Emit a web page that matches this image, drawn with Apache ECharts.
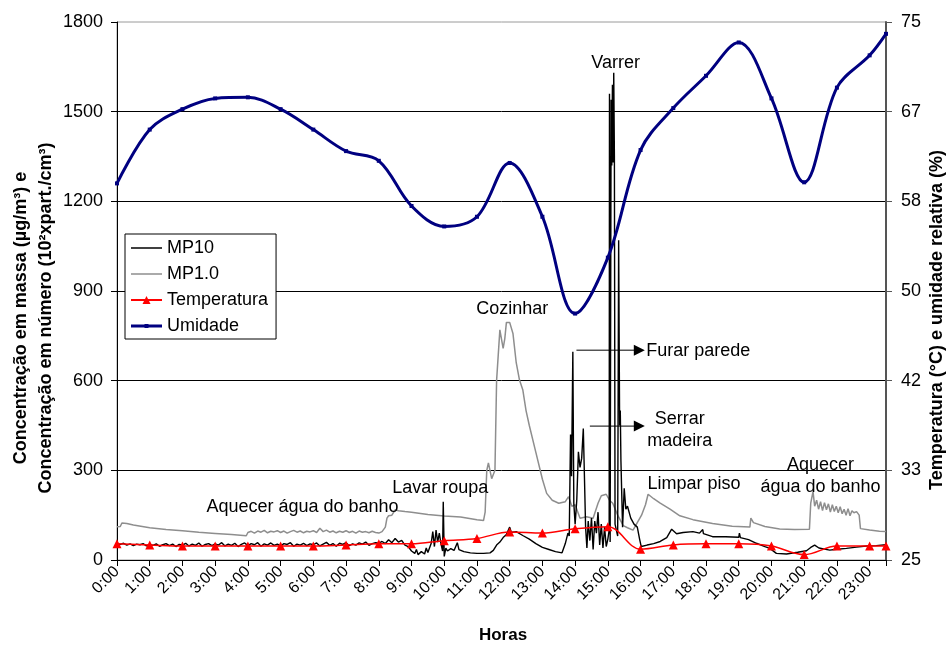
<!DOCTYPE html>
<html>
<head>
<meta charset="utf-8">
<script src="https://cdn.jsdelivr.net/npm/echarts@6/dist/echarts.min.js"></script>
<style>
  html, body { margin: 0; padding: 0; background: #fff; }
  #chart { width: 948px; height: 647px; }
</style>
</head>
<body>
<div id="chart"></div>
<script>
// Hour labels on the time axis
const hourLabels = ['0:00','1:00','2:00','3:00','4:00','5:00','6:00','7:00','8:00','9:00','10:00','11:00',
  '12:00','13:00','14:00','15:00','16:00','17:00','18:00','19:00','20:00','21:00','22:00','23:00'];

// MP10 overnight trace, one reading every 0.1 h from 0:00 to 8:00 (µg/m³)
const mp10NightStart = 0, mp10NightStep = 0.1;
const mp10Night = [
  55,52,56,50,54,48,53,51,55,47,
  52,49,54,46,51,55,48,53,45,52,
  50,56,47,53,49,57,46,52,55,48,
  54,50,58,47,53,49,56,45,52,57,
  48,55,51,58,46,54,50,57,49,53,
  47,55,52,58,46,53,50,56,48,54,
  51,57,47,53,59,49,55,46,56,52,
  58,48,54,50,57,53,60,49,55,58,
  56
];
// MP10 during the day activities, [hour, value]
const mp10Day = [
  [8.1,62],[8.2,55],[8.3,68],[8.4,58],[8.5,72],[8.6,60],[8.7,66],[8.8,50],[8.9,45],[9.0,30],
  [9.1,22],[9.15,35],[9.2,18],[9.3,28],[9.4,20],[9.45,40],[9.5,25],[9.6,55],[9.65,95],[9.7,45],
  [9.75,100],[9.8,60],[9.85,90],[9.9,55],[9.95,30],[9.97,195],[10.0,12],[10.05,40],[10.1,30],
  [10.2,38],[10.3,32],[10.4,58],[10.45,35],[10.5,30],[10.6,28],[10.8,24],[11.0,22],[11.2,22],
  [11.4,24],[11.5,32],[11.6,50],[11.7,60],[11.8,75],[11.9,85],[12.0,110],[12.05,92],[12.2,95],
  [12.4,82],[12.6,70],[12.8,55],[13.0,42],[13.2,35],[13.4,28],[13.6,24],[13.7,55],[13.78,90],
  [13.82,80],[13.86,420],[13.89,280],[13.93,697],[13.96,190],[14.0,120],[14.05,200],[14.1,362],
  [14.15,310],[14.2,340],[14.25,440],[14.28,300],[14.32,110],[14.36,40],[14.4,130],[14.45,65],
  [14.5,140],[14.55,35],[14.6,130],[14.65,90],[14.7,160],[14.75,50],[14.8,120],[14.85,40],
  [14.9,110],[14.95,45],[15.0,70],[15.04,100],[15.05,1560],[15.07,60],[15.1,1540],[15.12,1320],
  [15.14,1590],[15.16,1330],[15.18,1630],[15.2,1350],[15.22,120],[15.3,80],[15.33,1070],
  [15.36,450],[15.38,500],[15.4,330],[15.45,110],[15.5,240],[15.55,170],[15.6,180],[15.7,140],
  [15.8,120],[15.9,110],[15.97,70],[16.02,45],[16.2,50],[16.4,55],[16.6,62],[16.8,75],[16.95,103],
  [17.1,88],[17.3,92],[17.6,95],[17.8,90],[17.9,102],[17.92,88],[18.2,78],[18.6,78],[19.0,76],
  [19.02,90],[19.05,75],[19.3,68],[19.54,56],[19.8,45],[19.95,39],[20.15,22],[20.46,20],[20.8,26],
  [21.07,31],[21.2,42],[21.32,50],[21.45,40],[21.78,33],[22.0,36],[22.29,39],[22.6,43],[22.9,47],
  [23.2,48],[23.5,51]
];

// MP1.0 (10² part./cm³): slow overnight decay, [hour, value]
const mp1Early = [
  [0,111],[0.1,112],[0.15,124],[0.3,122],[0.5,117],[1.0,108],[1.5,102],[2.0,98],[2.5,93],
  [3.0,89],[3.5,85],[3.95,81]
];
// MP1.0 from 4:00 to 7:54, one reading every 0.1 h
const mp1QuietStart = 4.0, mp1QuietStep = 0.1;
const mp1Quiet = [
  92,96,90,97,93,99,91,96,94,98,
  92,97,90,95,99,93,97,91,96,94,
  98,92,106,95,100,93,97,91,96,93,
  98,92,96,90,97,93,95,91,96,92
];
const mp1Day = [
  [8.0,90],[8.1,95],[8.2,110],[8.25,140],[8.3,148],[8.4,150],[8.5,168],[8.6,165],[8.8,162],
  [9.0,160],[9.5,152],[10.0,147],[10.5,144],[11.0,135],[11.2,132],[11.25,160],[11.3,300],
  [11.35,325],[11.45,272],[11.55,300],[11.6,600],[11.7,770],[11.8,708],[11.85,740],[11.9,795],
  [12.0,795],[12.06,790],[12.1,758],[12.2,660],[12.3,602],[12.4,570],[12.5,500],[12.6,450],
  [12.8,360],[13.0,270],[13.13,223],[13.3,200],[13.5,190],[13.7,195],[13.8,212],[13.9,180],
  [14.0,185],[14.15,140],[14.35,145],[14.55,140],[14.7,190],[14.8,215],[14.95,220],[15.05,200],
  [15.15,190],[15.3,150],[15.47,115],[15.6,108],[15.77,100],[15.9,125],[16.03,150],[16.15,185],
  [16.23,220],[16.4,205],[16.6,190],[16.9,170],[17.2,148],[17.6,135],[18.2,122],[18.8,113],
  [19.34,110],[19.37,140],[19.45,125],[19.8,112],[20.25,104],[20.7,102],[21.16,103],[21.2,190],
  [21.27,229],[21.32,180],[21.38,200],[21.44,170],[21.5,195],[21.56,165],[21.62,192],[21.68,168],
  [21.74,188],[21.8,160],[21.86,185],[21.92,162],[21.98,180],[22.04,158],[22.1,178],[22.16,155],
  [22.22,170],[22.28,150],[22.34,172],[22.4,148],[22.46,165],[22.52,158],[22.6,162],[22.68,150],
  [22.72,105],[23.0,100],[23.3,96],[23.5,95]
];

// Hourly temperature (°C) and relative humidity (%)
const readingHours = [0,1,2,3,4,5,6,7,8,9,10,11,12,13,14,15,16,17,18,19,20,21,22,23,23.5];
const temperatura = [26.5,26.4,26.3,26.3,26.3,26.3,26.3,26.4,26.5,26.5,26.8,27.0,27.6,27.5,27.9,28.1,
  26.0,26.4,26.5,26.5,26.3,25.5,26.3,26.3,26.3];
const umidade = [60.0,65.0,66.9,67.9,68.0,66.9,65.0,63.0,62.1,57.9,56.0,56.9,61.9,56.9,47.9,53.1,
  63.1,67.0,70.0,73.1,67.9,60.1,68.9,71.9,73.9];

// Activity notes placed in data coordinates (hour, µg/m³)
const notes = [
  { text: 'Aquecer água do banho', hour: 5.67, value: 177, align: 'center' },
  { text: 'Lavar roupa', hour: 9.88, value: 241, align: 'center' },
  { text: 'Cozinhar', hour: 12.08, value: 840, align: 'center' },
  { text: 'Varrer', hour: 15.24, value: 1664, align: 'center' },
  { text: 'Furar parede', hour: 16.17, value: 700, align: 'left' },
  { text: 'Serrar\nmadeira', hour: 17.2, value: 434, align: 'center' },
  { text: 'Limpar piso', hour: 16.21, value: 253, align: 'left' },
  { text: 'Aquecer\nágua do banho', hour: 21.5, value: 281, align: 'center' }
];
const arrows = [
  { from: 14.04, to: 16.13, value: 702 },
  { from: 14.45, to: 16.13, value: 448 }
];

const FONT = '"Liberation Sans", Arial, Helvetica, sans-serif';

const seq = (start, step, vals) => vals.map((v, i) => [+(start + i * step).toFixed(2), v]);
const mp10Data = seq(mp10NightStart, mp10NightStep, mp10Night).concat(mp10Day);
const mp1Data = mp1Early.concat(seq(mp1QuietStart, mp1QuietStep, mp1Quiet), mp1Day);
const tempData = readingHours.map((h, i) => [h, temperatura[i]]);
const umidData = readingHours.map((h, i) => [h, umidade[i]]);

// legend swatches: plain strokes for the particle traces, thick stroke with a dot for humidity
const plainStroke = 'path://M0,0H31V1.5H0Z';
const humidityStroke = 'path://M0,1H31V4H0Z M13.5,0.5H17.5V4.5H13.5Z';

const chart = echarts.init(document.getElementById('chart'));
chart.setOption({
  animation: false,
  backgroundColor: '#fff',
  textStyle: { fontFamily: FONT },
  grid: { left: 117, right: 62, top: 22, bottom: 87, show: true, borderColor: '#9a9a9a', borderWidth: 1, backgroundColor: '#fff' },
  legend: {
    orient: 'vertical', left: 125, top: 234,
    itemWidth: 31, itemHeight: 10, itemGap: 8,
    padding: [5, 8, 4, 5],
    borderColor: '#000', borderWidth: 1, backgroundColor: '#fff',
    textStyle: { fontSize: 18, color: '#000', fontFamily: FONT },
    data: [
      { name: 'MP10', icon: plainStroke },
      { name: 'MP1.0', icon: plainStroke },
      'Temperatura',
      { name: 'Umidade', icon: humidityStroke }
    ]
  },
  xAxis: {
    type: 'value', min: 0, max: 23.5, interval: 1,
    axisLine: { show: true, onZero: false, lineStyle: { color: '#000', width: 1 } },
    axisTick: { show: true, length: 6, lineStyle: { color: '#000' } },
    axisLabel: {
      rotate: 45, margin: 9, fontSize: 16, color: '#000', fontFamily: FONT,
      formatter: v => (Math.abs(v - Math.round(v)) < 1e-6 && hourLabels[Math.round(v)]) || ''
    },
    splitLine: { show: false }
  },
  yAxis: [
    {
      type: 'value', min: 0, max: 1800, interval: 300,
      axisLine: { show: true, lineStyle: { color: '#000', width: 1 } },
      axisTick: { show: true, length: 6, lineStyle: { color: '#000' } },
      axisLabel: { fontSize: 18, color: '#000', margin: 14, fontFamily: FONT, formatter: v => String(v) },
      splitLine: { show: true, showMinLine: false, showMaxLine: false, lineStyle: { color: '#000', width: 1 } }
    },
    {
      type: 'value', position: 'right', min: 25, max: 75, interval: 50 / 6,
      axisLine: { show: true, lineStyle: { color: '#555', width: 2 } },
      axisTick: { show: true, length: 6, lineStyle: { color: '#555' } },
      axisLabel: { fontSize: 18, color: '#000', margin: 15, fontFamily: FONT, formatter: v => String(Math.round(v)) },
      splitLine: { show: false }
    }
  ],
  series: [
    {
      name: 'MP1.0', type: 'line', data: mp1Data, symbol: 'none', z: 2,
      lineStyle: { color: '#8e8e8e', width: 1.5 }, itemStyle: { color: '#8e8e8e' }
    },
    {
      name: 'MP10', type: 'line', data: mp10Data, symbol: 'none', z: 3,
      lineStyle: { color: '#000', width: 1.4 }, itemStyle: { color: '#000' }
    },
    {
      name: 'Temperatura', type: 'line', yAxisIndex: 1, data: tempData, smooth: 0.35, z: 4,
      symbol: 'triangle', symbolSize: 9, showAllSymbol: true,
      lineStyle: { color: '#ff0000', width: 1.5 }, itemStyle: { color: '#ff0000' }
    },
    {
      name: 'Umidade', type: 'line', yAxisIndex: 1, data: umidData, smooth: 0.35, z: 5,
      symbol: 'rect', symbolSize: 4, showAllSymbol: true,
      lineStyle: { color: '#000080', width: 3 }, itemStyle: { color: '#000080' }
    }
  ]
});

// Axis titles and activity notes
const toPx = (h, v) => chart.convertToPixel({ xAxisIndex: 0, yAxisIndex: 0 }, [h, v]);
const graphics = [];
const titleStyle = { fontFamily: FONT, fontSize: 18, fontWeight: 'bold', fill: '#000' };

graphics.push({
  type: 'text', x: 21, y: 318, rotation: Math.PI / 2,
  style: Object.assign({ text: 'Concentração em massa (µg/m³) e', align: 'center', verticalAlign: 'middle' }, titleStyle)
});
graphics.push({
  type: 'text', x: 46, y: 318, rotation: Math.PI / 2,
  style: Object.assign({ text: 'Concentração em número (10²xpart./cm³)', align: 'center', verticalAlign: 'middle' }, titleStyle)
});
graphics.push({
  type: 'text', x: 937, y: 320, rotation: Math.PI / 2,
  style: Object.assign({ text: 'Temperatura (°C) e umidade relativa (%)', align: 'center', verticalAlign: 'middle' }, titleStyle)
});
graphics.push({
  type: 'text', x: 503, y: 635,
  style: Object.assign({ text: 'Horas', align: 'center', verticalAlign: 'middle' }, titleStyle, { fontSize: 17 })
});

notes.forEach(n => {
  const p = toPx(n.hour, n.value);
  graphics.push({
    type: 'text', x: p[0], y: p[1], z: 10,
    style: { text: n.text, align: n.align, verticalAlign: 'middle', fontFamily: FONT, fontSize: 18,
             lineHeight: 22, fill: '#000' }
  });
});

arrows.forEach(a => {
  const p0 = toPx(a.from, a.value), p1 = toPx(a.to, a.value);
  graphics.push({
    type: 'line', z: 10,
    shape: { x1: p0[0], y1: p0[1], x2: p1[0] - 10, y2: p1[1] },
    style: { stroke: '#000', lineWidth: 1 }
  });
  graphics.push({
    type: 'polygon', z: 10,
    shape: { points: [[p1[0], p1[1]], [p1[0] - 11, p1[1] - 5.5], [p1[0] - 11, p1[1] + 5.5]] },
    style: { fill: '#000' }
  });
});

chart.setOption({ graphic: graphics });
</script>
</body>
</html>
